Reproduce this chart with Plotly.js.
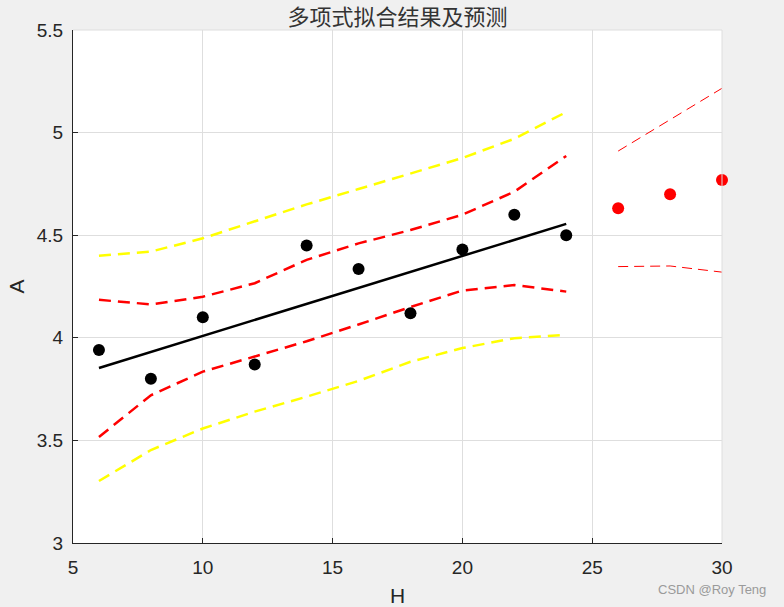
<!DOCTYPE html>
<html>
<head>
<meta charset="utf-8">
<script src="https://cdn.plot.ly/plotly-3.0.1.min.js"></script>
<style>html,body{margin:0;padding:0;background:#f0f0f0;}#chart{width:784px;height:607px;}</style>
</head>
<body>
<div id="chart"></div>
<script>
// Observed data
var xObs = [6, 8, 10, 12, 14, 16, 18, 20, 22, 24];
var yObs = [3.94, 3.80, 4.10, 3.87, 4.45, 4.335, 4.12, 4.43, 4.60, 4.50];
// Fitted line
var yFit = [3.853, 3.931, 4.009, 4.087, 4.165, 4.243, 4.321, 4.399, 4.477, 4.555];
// Confidence band (red dashed)
var yCIUp = [4.185, 4.163, 4.20, 4.266, 4.38, 4.46, 4.525, 4.60, 4.712, 4.886];
var yCILow = [3.517, 3.72, 3.835, 3.91, 3.983, 4.065, 4.15, 4.23, 4.257, 4.225];
// Prediction band (yellow dashed)
var yPIUp = [4.40, 4.42, 4.485, 4.567, 4.65, 4.725, 4.80, 4.876, 4.97, 5.10];
var yPILow = [3.302, 3.453, 3.558, 3.64, 3.713, 3.79, 3.883, 3.95, 3.998, 4.014];
// Forecast
var xPred = [26, 28, 30];
var yPred = [4.631, 4.70, 4.769];
var yPredUp = [4.91, 5.061, 5.216];
var yPredLow = [4.347, 4.35, 4.32];

var xTicks = [5, 10, 15, 20, 25, 30];
var yTicks = [3, 3.5, 4, 4.5, 5, 5.5];

var thickDash = '12px,7px';
var traces = [
  {x: xObs, y: yPIUp, mode: 'lines', line: {color: '#ffff00', width: 2.5, dash: thickDash}},
  {x: xObs, y: yPILow, mode: 'lines', line: {color: '#ffff00', width: 2.5, dash: thickDash}},
  {x: xObs, y: yCIUp, mode: 'lines', line: {color: '#ff0000', width: 2.5, dash: thickDash}},
  {x: xObs, y: yCILow, mode: 'lines', line: {color: '#ff0000', width: 2.5, dash: thickDash}},
  {x: xObs, y: yFit, mode: 'lines', line: {color: '#000000', width: 2.5}},
  {x: xObs, y: yObs, mode: 'markers', marker: {color: '#000000', size: 12}, cliponaxis: false},
  {x: xPred, y: yPredUp, mode: 'lines', line: {color: '#ff0000', width: 1, dash: '10px,6px'}},
  {x: xPred, y: yPredLow, mode: 'lines', line: {color: '#ff0000', width: 1, dash: '10px,6px'}},
  {x: xPred, y: yPred, mode: 'markers', marker: {color: '#ff0000', size: 12}, cliponaxis: false}
];

var axisFont = {family: 'Liberation Sans, Arial, sans-serif', size: 19, color: '#262626'};
var layout = {
  width: 784, height: 607,
  paper_bgcolor: '#f0f0f0', plot_bgcolor: '#ffffff',
  showlegend: false,
  margin: {l: 72.5, r: 61.5, t: 30, b: 64, pad: 0},
  title: {text: '多项式拟合结果及预测', font: {family: 'Noto Sans CJK SC', size: 22, color: '#333333'},
          x: 0.507, xanchor: 'center', y: 0.972, yref: 'container', yanchor: 'middle'},
  xaxis: {
    range: [5, 30], tickvals: xTicks, ticktext: xTicks.map(String),
    showgrid: true, gridcolor: '#dedede', gridwidth: 1,
    showline: true, linecolor: '#262626', linewidth: 1,
    ticks: 'inside', ticklen: 5, tickcolor: '#262626',
    zeroline: false, tickfont: axisFont, ticklabelstandoff: 7,
    title: {text: 'H', font: {family: 'Liberation Sans, Arial, sans-serif', size: 21, color: '#262626'}, standoff: 11}
  },
  yaxis: {
    range: [3, 5.5], tickvals: yTicks, ticktext: yTicks.map(String),
    showgrid: true, gridcolor: '#dedede', gridwidth: 1,
    showline: true, linecolor: '#262626', linewidth: 1,
    ticks: 'inside', ticklen: 5, tickcolor: '#262626',
    zeroline: false, tickfont: axisFont, ticklabelstandoff: 5,
    title: {text: 'A', font: {family: 'Liberation Sans, Arial, sans-serif', size: 21, color: '#262626'}, standoff: 6}
  },
  shapes: [
    {type: 'line', xref: 'paper', yref: 'paper', x0: 0, x1: 1, y0: 1, y1: 1, line: {color: '#dedede', width: 1}},
    {type: 'line', xref: 'paper', yref: 'paper', x0: 1, x1: 1, y0: 0, y1: 1, line: {color: '#dedede', width: 1}}
  ],
  annotations: [
    {text: 'CSDN @Roy Teng', xref: 'paper', yref: 'paper', x: 1.0715, y: -0.0916,
     xanchor: 'right', yanchor: 'middle', showarrow: false,
     font: {family: 'Liberation Sans, Arial, sans-serif', size: 13, color: '#9a9a9a'}}
  ]
};
Plotly.newPlot('chart', traces, layout, {displayModeBar: false, staticPlot: true});
</script>
</body>
</html>
